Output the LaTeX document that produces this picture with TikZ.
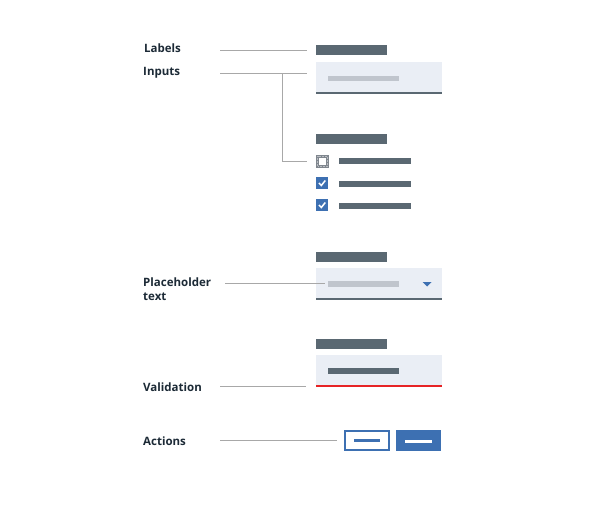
\documentclass[tikz,border=0pt]{standalone}
\usepackage{fontspec}
\setmainfont{Open Sans}
\definecolor{ink}{HTML}{1C2A36}
\definecolor{slate}{HTML}{5A6872}
\definecolor{fieldbg}{HTML}{EAEEF5}
\definecolor{phgray}{HTML}{C0C5CD}
\definecolor{leadgray}{HTML}{A8A8A8}
\definecolor{ibmblue}{HTML}{3D70B2}
\definecolor{errred}{HTML}{E62325}
\definecolor{focusgray}{HTML}{7F868E}
\tikzset{
  lbl/.style={anchor=base west, inner sep=0pt, text=ink,
    font=\bfseries\fontsize{11.5}{14}\selectfont},
  lead/.style={draw=leadgray, line width=1pt},
  box/.style={anchor=north west, inner sep=0pt, outer sep=0pt},
  labelbar/.style={box, fill=slate, minimum width=71pt, minimum height=10pt},
  field/.style={box, fill=fieldbg, minimum width=126pt, minimum height=31pt},
  checkbox/.style={box, fill=ibmblue, minimum width=12pt, minimum height=12pt},
}

\begin{document}
\begin{tikzpicture}[x=1pt,y=-1pt]
 \useasboundingbox[fill=white] (0,0) rectangle (604,506);
 % names on the left
 \node[lbl] (labels) at (144,52.3) {Labels};
 \node[lbl] (inputs) at (143,75) {Inputs};
 \node[lbl, anchor=north west, align=left] (placeholder) at (143,277.5) {Placeholder\\text};
 \node[lbl] (validation) at (143,391) {Validation};
 \node[lbl] (actions) at (143,445) {Actions};
 \coordinate (labels-end) at (220,50);
 \coordinate (inputs-end) at (220,73);
 \coordinate (inputs-knee) at (282,73);
 \coordinate (placeholder-end) at (225,283.5);
 \coordinate (validation-end) at (220,386.5);
 \coordinate (actions-end) at (220,440.5);
 % text input
 \node[labelbar] (bar1) at (316,45) {};
 \node[field] (input) at (316,62) {};
 \draw[slate, line width=2pt] (input.south west) -- (input.south east);
 \fill[phgray] (328,75.5) rectangle (399,81);
 % checkboxes
 \node[labelbar] (bar2) at (316,134) {};
 \node[box, fill=focusgray, minimum width=13pt, minimum height=13pt] (check1) at (316,154.5) {};
 \draw[focusgray!55!white, densely dotted, line width=.5pt] (317.6,156.1) rectangle (327.4,165.9);
 \fill[white] (319,157.5) rectangle (326,164.5);
 \node[checkbox] (check2) at (316,177) {};
 \node[checkbox] (check3) at (316,199) {};
 \draw[white, line width=1.5pt] (319,183) -- (321.3,185.5) -- (325.3,180.5);
 \draw[white, line width=1.5pt] (319,205) -- (321.3,207.5) -- (325.3,202.5);
 \fill[slate] (339,158) rectangle (411,163.5);
 \fill[slate] (339,181) rectangle (411,186.5);
 \fill[slate] (339,203) rectangle (411,208.5);
 % dropdown
 \node[labelbar] (bar3) at (316,251.5) {};
 \node[field] (dropdown) at (316,268) {};
 \draw[slate, line width=2pt] (dropdown.south west) -- (dropdown.south east);
 \fill[phgray] (328,281) rectangle (399,287);
 \fill[ibmblue] (422.5,282) -- (431.5,282) -- (427,286.5) -- cycle;
 % validation
 \node[labelbar] (bar4) at (316,339) {};
 \node[field] (invalid) at (316,355) {};
 \draw[errred, line width=2pt] (invalid.south west) -- (invalid.south east);
 \fill[slate] (328,368) rectangle (399,374);
 % buttons
 \node[box, draw=ibmblue, fill=white, line width=2pt, minimum width=44pt, minimum height=18.7pt] (secondary) at (345.3,431) {};
 \draw[ibmblue, line width=3pt] (354,440.3) -- (380,440.3);
 \node[box, fill=ibmblue, minimum width=45pt, minimum height=21pt] (primary) at (396,430) {};
 \draw[white, line width=3pt] (405,441) -- (432,441);
 % leaders
 \draw[lead] (labels-end) -- ([xshift=-9pt]bar1.west);
 \draw[lead] (inputs-end) -- ([xshift=-9pt]input.west |- inputs-end);
 \draw[lead] (inputs-knee) |- ([xshift=-9pt]check1.west);
 \draw[lead] (placeholder-end) -- ([xshift=9pt]dropdown.west);
 \draw[lead] (validation-end) -- ([xshift=-10pt]invalid.south west |- validation-end);
 \draw[lead] (actions-end) -- ([xshift=-8pt]secondary.west |- actions-end);
\end{tikzpicture}
\end{document}
